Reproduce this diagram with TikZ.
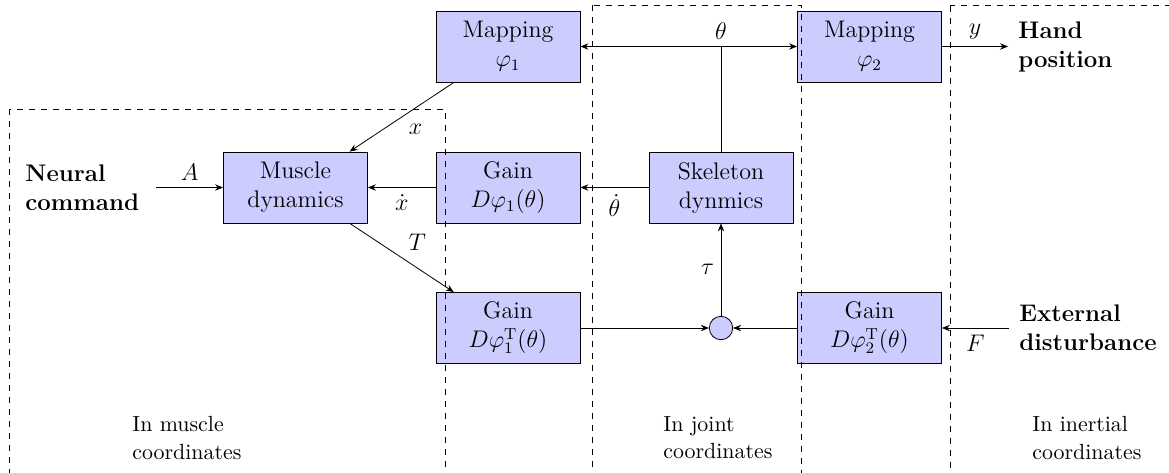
\documentclass[tikz,border=0pt]{standalone}
\usetikzlibrary{arrows.meta}
\begin{document}
\begin{tikzpicture}[x=0.5pt,y=-0.5pt,
  font=\fontsize{12}{14.5}\selectfont,
  >={Stealth[length=4pt,width=3.2pt]},
  block/.style={draw=black, fill=blue!20, minimum width=72pt, minimum height=35.5pt, inner sep=0pt, align=center},
  bigtxt/.style={align=left, anchor=west, inner ysep=0pt, font=\fontsize{12}{14.5}\selectfont\bfseries},
  coordtxt/.style={align=left, inner sep=0pt, anchor=west, font=\fontsize{10.95}{13.6}\selectfont},
  sumnode/.style={circle, draw=black, fill=blue!20, minimum size=11.7pt, inner sep=0pt},
  region/.style={dashed, draw=black}
]
\useasboundingbox (0,0) rectangle (1169,472);

% blocks
\node[block] (map1)   at (508,46.5)  {Mapping\\$\varphi_1$};
\node[block] (map2)   at (869.5,46.5) {Mapping\\$\varphi_2$};
\node[block] (muscle) at (295.5,187.5) {Muscle\\dynamics};
\node[block] (gain1)  at (508,187.5) {Gain\\$D\varphi_1(\theta)$};
\node[block] (skel)   at (721,187.5) {Skeleton\\dynmics};
\node[block] (gain1T) at (508,328) {Gain\\$D\varphi_1^{\mathrm{T}}(\theta)$};
\node[block] (gain2)  at (869.5,328) {Gain\\$D\varphi_2^{\mathrm{T}}(\theta)$};
\node[sumnode] (sum)  at (721,328) {};

% texts
\node[bigtxt, inner xsep=8.5pt] (neural) at (8,187.5) {Neural\\command};
\node[bigtxt, inner xsep=5pt] (hand) at (1008,46.5) {Hand\\position};
\node[bigtxt, inner xsep=5pt] (ext) at (1009,328) {External\\disturbance};

\node[coordtxt] (lm) at (132,438) {In muscle\\coordinates};
\node[coordtxt] (lj) at (663,438) {In joint\\coordinates};
\node[coordtxt] (li) at (1032,438) {In inertial\\coordinates};

% connectors
\coordinate (junc) at (721,46.5);
\draw (skel) -- (junc);
\draw[->] (junc) -- (map1);
\draw[->] (junc) -- (map2);
\node[above] (thetalbl) at (junc) {$\theta$};

\draw[->] (neural) -- (muscle) node[midway,above] (lA) {$A$};
\draw[->] (map1) -- (muscle) node[midway,below right] (lx) {$x$};
\draw[->] (gain1) -- (muscle) node[midway,below] (lxd) {$\dot x$};
\draw[->] (skel) -- (gain1) node[midway,below] (ltd) {$\dot\theta$};
\draw[->] (muscle) -- (gain1T) node[midway,above right] (lT) {$T$};
\draw[->] (gain1T) -- (sum);
\draw[->] (gain2) -- (sum);
\draw[->] (sum) -- (skel) node[midway,left] (ltau) {$\tau$};
\draw[->] (ext) -- (gain2) node[midway,below] (lF) {$F$};
\draw[->] (map2) -- (hand) node[midway,above] (ly) {$y$};

% coordinate regions
\begin{scope}
\clip (0,0) rectangle (1169,472);
\draw[region] (9,109) rectangle (445,520);
\draw[region] (592,5) rectangle (801,520);
\draw[region] (950,5.5) rectangle (1200,520);
\end{scope}
\end{tikzpicture}
\end{document}
